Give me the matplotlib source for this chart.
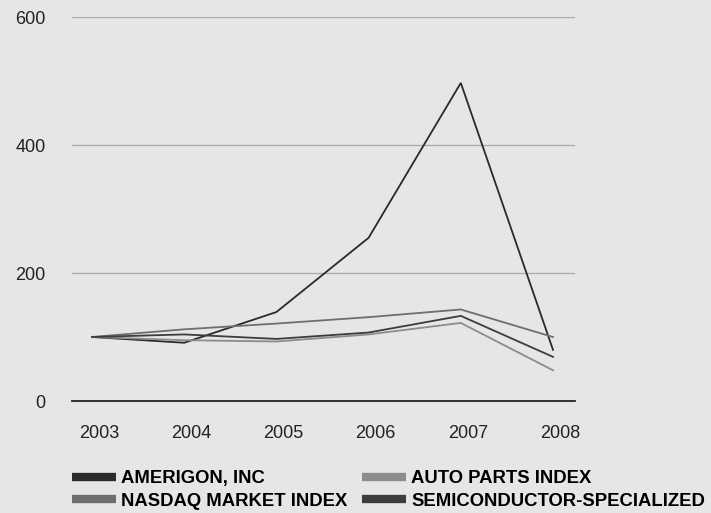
import matplotlib
matplotlib.use("Agg")
import matplotlib.pyplot as plt
import matplotlib.transforms as mtransforms
from matplotlib.lines import Line2D

plt.rcParams['font.family'] = ['Liberation Sans', 'DejaVu Sans']

years = [2003, 2004, 2005, 2006, 2007, 2008]
amerigon = [100, 91, 139, 255, 497, 80]
auto_parts = [100, 95, 93, 104, 122, 48]
nasdaq = [100, 112, 121, 131, 143, 100]
semi = [100, 104, 97, 107, 133, 69]

series_names = ['AMERIGON, INC', 'AUTO PARTS INDEX', 'NASDAQ MARKET INDEX', 'SEMICONDUCTOR-SPECIALIZED']
series_vals = [amerigon, auto_parts, nasdaq, semi]
colors = ['#2a2a2a', '#8c8c8c', '#6e6e6e', '#3c3c3c']
yticks = [0, 200, 400, 600]

bg = '#e6e6e6'
fig = plt.figure(figsize=(7.11, 5.13), dpi=100, facecolor=bg)
ax = fig.add_axes([72/711, 1-401/513, 503/711, 384/513])
ax.set_facecolor(bg)

for vals, c in zip(series_vals, colors):
    ax.plot(years, vals, color=c, lw=1.3, solid_joinstyle='miter')

ax.set_xlim(2003 - 20/92.2, 2008 + 22/92.2)
ax.set_ylim(0, 600)
ax.set_yticks(yticks)
ax.set_xticks(years)
ax.grid(axis='y', color='#a8a8a8', lw=0.9)
ax.set_axisbelow(True)
for s in ['top', 'right', 'left']:
    ax.spines[s].set_visible(False)
ax.spines['bottom'].set_color('#222222')
ax.spines['bottom'].set_linewidth(1.3)
ax.tick_params(axis='both', length=0, labelsize=13, colors='#222222')
ax.tick_params(axis='y', pad=19)
ax.tick_params(axis='x', pad=17)
# year labels sit a bit right of their points
off = mtransforms.ScaledTranslation(7/100, 0, fig.dpi_scale_trans)
for lab in ax.get_xticklabels():
    lab.set_transform(lab.get_transform() + off)

# legend fills by column, so reorder to read row by row
order = [0, 2, 1, 3]
handles = [Line2D([0], [0], color=colors[i], lw=6, solid_capstyle='butt') for i in order]
labels = [series_names[i] for i in order]
fig.legend(handles, labels, loc='upper left', bbox_to_anchor=(72/711, 1-470/513),
           ncol=2, frameon=False, handlelength=2.38, handletextpad=0.27,
           columnspacing=0.8, labelspacing=0.3, borderpad=0, borderaxespad=0,
           prop={'weight': 'bold', 'size': 13.3})

fig.savefig('out.png', dpi=100, facecolor=bg)
